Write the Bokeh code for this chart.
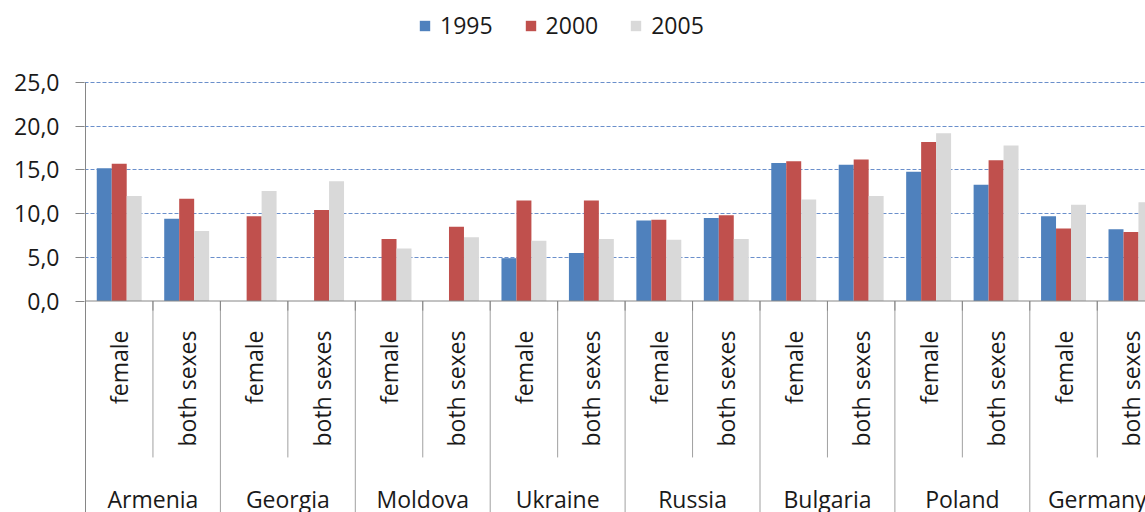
import math
from bokeh.plotting import figure
from bokeh.models import ColumnDataSource, Range1d, FixedTicker, Legend, LegendItem
from bokeh.core.properties import value
from bokeh.embed import file_html
from bokeh.resources import INLINE

# ---------------- data ----------------
countries = ["Armenia", "Georgia", "Moldova", "Ukraine", "Russia", "Bulgaria", "Poland", "Germany"]
sexes = ["female", "both sexes"]
years = ["1995", "2000", "2005"]
# order: Armenia female, Armenia both sexes, Georgia female, ...
v1995 = [15.2, 9.4, None, None, None, None, 4.9, 5.5, 9.2, 9.5, 15.8, 15.6, 14.8, 13.3, 9.7, 8.2]
v2000 = [15.7, 11.7, 9.7, 10.4, 7.1, 8.5, 11.5, 11.5, 9.3, 9.8, 16.0, 16.2, 18.2, 16.1, 8.3, 7.9]
v2005 = [12.0, 8.0, 12.6, 13.7, 6.0, 7.3, 6.9, 7.1, 7.0, 7.1, 11.6, 12.0, 19.2, 17.8, 11.0, 11.3]
y_ticks = [0, 5, 10, 15, 20, 25]
y_tick_labels = ["0,0", "5,0", "10,0", "15,0", "20,0", "25,0"]
colors = ["#4F81BD", "#C0504D", "#D9D9D9"]

# ---------------- geometry ----------------
FONT = value("Open Sans")
FS = "23px"
W, H = 1145, 512
LEFT = 84
PX_PER_UNIT = 8.74
ZERO_Y = 300.5          # figure px of value 0
SUB_W = 67.45           # px per sub-category
x_start = -1.0 / SUB_W
x_end = x_start + (W - LEFT) / SUB_W
y_top = ZERO_Y / PX_PER_UNIT
y_bot = -(H - ZERO_Y) / PX_PER_UNIT

p = figure(width=W, height=H, output_backend="svg", toolbar_location=None,
           x_axis_location=None,
           x_range=Range1d(x_start, x_end), y_range=Range1d(y_bot, y_top),
           min_border_left=LEFT, min_border_right=0, min_border_top=0, min_border_bottom=0)
p.outline_line_color = None
p.background_fill_color = "white"
p.border_fill_color = "white"

# grid
p.xgrid.visible = False
p.ygrid.ticker = FixedTicker(ticks=y_ticks[1:])
p.ygrid.grid_line_color = "#6A8FCB"
p.ygrid.grid_line_dash = "4 2"
p.ygrid.grid_line_width = 1

# y axis
ax = p.yaxis[0]
ax.ticker = FixedTicker(ticks=y_ticks)
ax.major_label_overrides = dict(zip(y_ticks, y_tick_labels))
ax.axis_line_color = None
ax.major_tick_out = 9
ax.major_tick_in = 0
ax.major_tick_line_color = "#868686"
ax.minor_tick_line_color = None
ax.major_label_standoff = 16
ax.major_label_text_font = "Open Sans"
ax.major_label_text_font_size = FS
ax.major_label_text_color = "#1a1a1a"

# category structure
n_sub = len(countries) * len(sexes)
sub_x = [j + 0.5 for j in range(n_sub)]
sub_labels = [sexes[j % 2] for j in range(n_sub)]
country_x = [2 * i + 1.0 for i in range(len(countries))]

# separator lines
country_sep = [2.0 * i for i in range(len(countries) + 1)]
sub_sep = [2.0 * i + 1 for i in range(len(countries))]
p.segment(x0=country_sep, y0=[0] * len(country_sep), x1=country_sep, y1=[y_bot] * len(country_sep),
          line_color="#A0A0A0", line_width=1)
p.segment(x0=sub_sep, y0=[0] * len(sub_sep), x1=sub_sep, y1=[-17.9] * len(sub_sep),
          line_color="#A0A0A0", line_width=1)
all_sep = [float(j) for j in range(n_sub + 1)]
p.segment(x0=all_sep, y0=[0] * len(all_sep), x1=all_sep, y1=[-1.1] * len(all_sep),
          line_color="#868686", line_width=1)
# y axis line
p.segment(x0=[0], y0=[25], x1=[0], y1=[y_bot], line_color="#868686", line_width=1)

# bars
bw = 0.222
offsets = [-bw, 0.0, bw]
renderers = []
for k, vals in enumerate([v1995, v2000, v2005]):
    xs = [sub_x[j] + offsets[k] for j in range(n_sub) if vals[j] is not None]
    tops = [vals[j] for j in range(n_sub) if vals[j] is not None]
    src = ColumnDataSource(dict(x=xs, top=tops))
    r = p.vbar(x="x", top="top", bottom=0, width=bw, source=src,
               fill_color=colors[k], line_color=None)
    renderers.append(r)

# x axis line
p.segment(x0=[0], y0=[0], x1=[x_end], y1=[0], line_color="#868686", line_width=1)

# sub-category labels (vertical)
p.text(x=sub_x, y=[-3.38] * n_sub, text=sub_labels, angle=math.pi / 2,
       text_align="right", text_baseline="middle",
       text_font=FONT, text_font_size=FS, text_color="#1a1a1a")
# country labels
p.text(x=country_x, y=[-22.6] * len(countries), text=countries,
       text_align="center", text_baseline="alphabetic",
       text_font=FONT, text_font_size=FS, text_color="#1a1a1a")

# legend
legend = Legend(items=[LegendItem(label=years[k], renderers=[renderers[k]]) for k in range(3)],
                orientation="horizontal", location=(334, 471))
legend.padding = 0
legend.margin = 0
legend.spacing = 31
legend.label_standoff = 9
legend.glyph_width = 13
legend.glyph_height = 13
legend.border_line_color = None
legend.background_fill_alpha = 0
legend.label_text_font = "Open Sans"
legend.label_text_font_size = FS
legend.label_text_color = "#1a1a1a"
p.add_layout(legend)

open("out.html", "w").write(file_html(p, INLINE))
